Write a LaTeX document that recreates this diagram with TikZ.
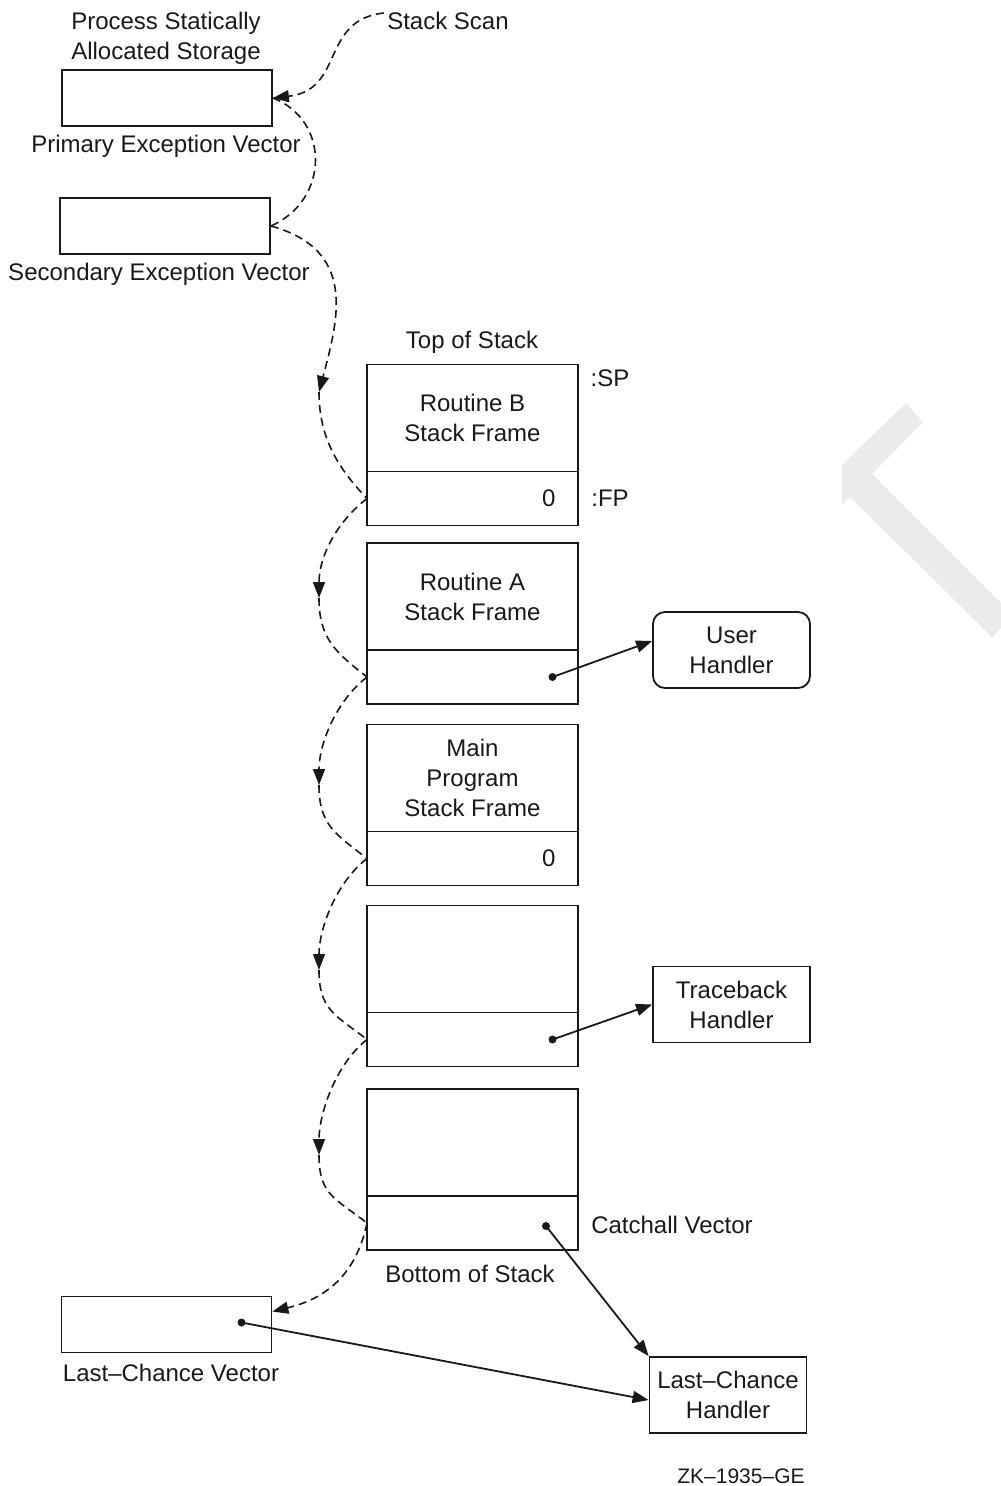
\documentclass[tikz,border=0pt]{standalone}
\usepackage{fontspec}
\setmainfont{Liberation Sans}
\usetikzlibrary{arrows.meta,positioning}

\tikzstyle{frame} = [rectangle, draw, line width=1.8pt, minimum width=211pt,
    minimum height=107pt, inner sep=0pt, outer sep=0pt, align=center]
\tikzstyle{slot} = [rectangle, draw, line width=1.8pt, minimum width=211pt,
    minimum height=54pt, inner sep=0pt, outer sep=0pt]
\tikzstyle{vec} = [rectangle, draw, line width=1.8pt, minimum width=210pt,
    minimum height=56pt, inner sep=0pt]
\tikzstyle{handler} = [rectangle, draw, line width=1.8pt, minimum width=157pt,
    minimum height=76pt, inner sep=0pt, align=center]
\tikzstyle{scan} = [line width=1.6pt, dash pattern=on 8pt off 5pt]
\tikzstyle{ptr} = [line width=1.8pt]

\begin{document}
\begin{tikzpicture}[x=1pt,y=-1pt,color=black!90,
                    >={Triangle[length=16pt,width=12pt]},
                    font=\fontsize{24}{30}\selectfont]
  \useasboundingbox (0,0) rectangle (1001,1486);
  \fill[black!8] (906,403) -- (923,422) -- (872,474) -- (1001,603) -- (1001,628)
    -- (992,637) -- (850,497) -- (842,505) -- (842,465) -- cycle;

  % static storage
  \node (title) at (166,38) [align=center] {Process Statically\\Allocated Storage};
  \node[vec] (pev) at (167,98) {};
  \node (pevl) at (166,146) {Primary Exception Vector};
  \node[vec] (sev) at (165,226) {};
  \node (sevl) at (159,274) {Secondary Exception Vector};
  \node (scan) at (448,21) {Stack Scan};

  % stack frames
  \node (top) at (472,342) {Top of Stack};
  \node[frame] (fB) at (472.5,418) {Routine B\\Stack Frame};
  \node[slot]  (sB) [below=0pt of fB] {};
  \node[frame] (fA) at (472.5,596.5) {Routine A\\Stack Frame};
  \node[slot]  (sA) [below=0pt of fA] {};
  \node[frame] (fM) at (472.5,778) {Main\\Program\\Stack Frame};
  \node[slot]  (sM) [below=0pt of fM] {};
  \node[frame] (f4) at (472.5,959) {};
  \node[slot]  (s4) [below=0pt of f4] {};
  \node[frame] (f5) at (472.5,1142.5) {};
  \node[slot]  (s5) [below=0pt of f5] {};
  \node (bot) at (470,1274) {Bottom of Stack};

  \node[anchor=east] (zB) at ([xshift=-19pt]sB.east) {0};
  \node[anchor=east] (zM) at ([xshift=-19pt]sM.east) {0};
  \node (sp) at (610,378) {:SP};
  \node (fp) at (610,498) {:FP};
  \node (catch) at (672,1225) {Catchall Vector};

  % handlers
  \node[handler,rounded corners=12pt] (uh) at (731.5,650) {User\\Handler};
  \node[handler] (tb) at (731.5,1004.5) {Traceback\\Handler};
  \node[handler] (lch) at (728,1395) {Last--Chance\\Handler};
  \node[vec] (lcv) at (166.5,1324.5) {};
  \node (lcvl) at (171,1373) {Last--Chance Vector};
  \node (id) at (741,1476) [font=\fontsize{21}{24}\selectfont] {ZK--1935--GE};

  % stack scan
  \coordinate (s0) at ([yshift=8pt]scan.west);
  \coordinate (a0) at (319,392);
  \coordinate (a1) at (319,598);
  \coordinate (a2) at (319,785);
  \coordinate (a3) at (319,970);
  \coordinate (a4) at (319,1155);
  \draw[scan,->] (s0) .. controls (320,20) and (345,90) .. (pev.east);
  \draw[scan] (pev.east) .. controls (330,120) and (330,200) .. (sev.east);
  \draw[scan,->] (sev.east) .. controls (358,250) and (338,320) .. (a0);
  \draw[scan] (a0) .. controls (319,440) and (340,470) .. (sB.west);
  \draw[scan,->] (sB.west) .. controls +(-32,25) and +(0,-40) .. (a1);
  \draw[scan] (a1) .. controls +(0,40) and +(-32,-25) .. (sA.west);
  \draw[scan,->] (sA.west) .. controls +(-32,25) and +(0,-40) .. (a2);
  \draw[scan] (a2) .. controls +(0,40) and +(-32,-25) .. (sM.west);
  \draw[scan,->] (sM.west) .. controls +(-32,25) and +(0,-40) .. (a3);
  \draw[scan] (a3) .. controls +(0,40) and +(-32,-25) .. (s4.west);
  \draw[scan,->] (s4.west) .. controls +(-32,25) and +(0,-40) .. (a4);
  \draw[scan] (a4) .. controls +(0,40) and +(-32,-25) .. (s5.west);
  \draw[scan,->] (s5.west) .. controls (355,1280) and (320,1300) .. ([yshift=13pt]lcv.east);

  % handler pointers
  \coordinate (dA) at ([xshift=80pt]sA.center);
  \coordinate (d4) at ([xshift=80pt]s4.center);
  \coordinate (d5) at ([xshift=73.5pt,yshift=-3pt]s5.center);
  \coordinate (dL) at ([xshift=75pt,yshift=2pt]lcv.center);
  \foreach \d in {dA,d4,d5,dL} \fill (\d) circle (4pt);
  \draw[ptr,->] (dA) -- ([yshift=9pt]uh.west);
  \draw[ptr,->] (d4) -- (tb.west);
  \draw[ptr,->] (d5) -- (lch.north west);
  \draw[ptr,->] (dL) -- ([yshift=-5pt]lch.west);
\end{tikzpicture}
\end{document}
